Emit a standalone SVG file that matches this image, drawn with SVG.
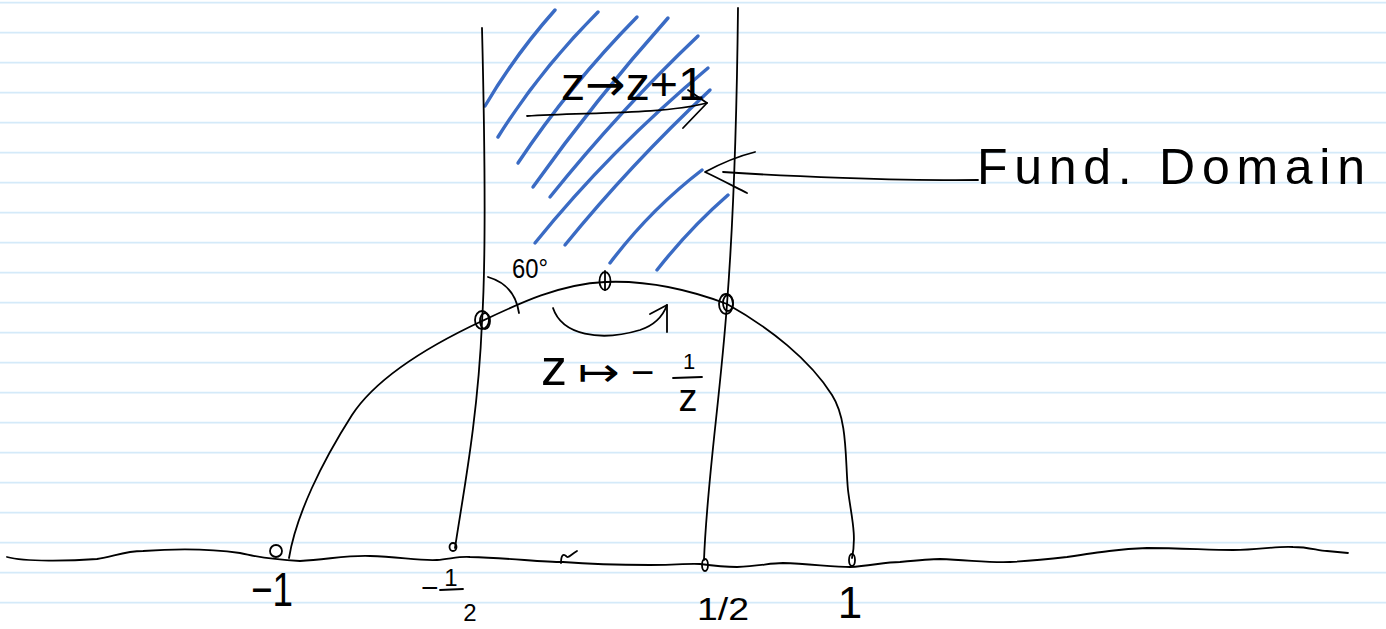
<svg xmlns="http://www.w3.org/2000/svg" width="1386" height="629" viewBox="0 0 1386 629">
<style>
.rule{stroke:#d4eaf9;stroke-width:1.7}
.ink{fill:none;stroke:#000;stroke-width:1.8;stroke-linecap:round;stroke-linejoin:round}
.hatch{fill:none;stroke:#3a6bc4;stroke-width:3.4;stroke-linecap:round}
.t{font-family:"Liberation Sans","Noto Sans",sans-serif;fill:#000}
</style>
<rect width="1386" height="629" fill="#fff"/>
<g id="paper">
<line class="rule" x1="0" y1="2.7" x2="1386" y2="2.7"/>
<line class="rule" x1="0" y1="32.7" x2="1386" y2="32.7"/>
<line class="rule" x1="0" y1="62.7" x2="1386" y2="62.7"/>
<line class="rule" x1="0" y1="92.7" x2="1386" y2="92.7"/>
<line class="rule" x1="0" y1="122.7" x2="1386" y2="122.7"/>
<line class="rule" x1="0" y1="152.7" x2="1386" y2="152.7"/>
<line class="rule" x1="0" y1="182.7" x2="1386" y2="182.7"/>
<line class="rule" x1="0" y1="212.7" x2="1386" y2="212.7"/>
<line class="rule" x1="0" y1="242.7" x2="1386" y2="242.7"/>
<line class="rule" x1="0" y1="272.7" x2="1386" y2="272.7"/>
<line class="rule" x1="0" y1="302.7" x2="1386" y2="302.7"/>
<line class="rule" x1="0" y1="332.7" x2="1386" y2="332.7"/>
<line class="rule" x1="0" y1="362.7" x2="1386" y2="362.7"/>
<line class="rule" x1="0" y1="392.7" x2="1386" y2="392.7"/>
<line class="rule" x1="0" y1="422.7" x2="1386" y2="422.7"/>
<line class="rule" x1="0" y1="452.7" x2="1386" y2="452.7"/>
<line class="rule" x1="0" y1="482.7" x2="1386" y2="482.7"/>
<line class="rule" x1="0" y1="512.7" x2="1386" y2="512.7"/>
<line class="rule" x1="0" y1="542.7" x2="1386" y2="542.7"/>
<line class="rule" x1="0" y1="572.7" x2="1386" y2="572.7"/>
<line class="rule" x1="0" y1="602.7" x2="1386" y2="602.7"/>
</g>
<g id="fundamental-domain-hatch">
<path class="hatch" d="M485,106 Q515,55 555,10"/>
<path class="hatch" d="M498,137 Q540,70 598,12"/>
<path class="hatch" d="M518,163 Q570,85 637,17"/>
<path class="hatch" d="M533,187 Q595,100 668,18"/>
<path class="hatch" d="M550,197 Q620,110 698,36"/>
<path class="hatch" d="M535,243 Q610,150 708,68"/>
<path class="hatch" d="M565,245 Q630,165 710,90"/>
<path class="hatch" d="M610,263 Q650,210 702,170"/>
<path class="hatch" d="M657,270 Q690,228 728,195"/>
</g>
<g id="real-axis">
<path class="ink" d="M7,557 C25,562 70,561 97,559 C115,556 125,551 143,551 C170,549 205,548 240,553 C255,556 262,559 300,561 C330,559 350,555 370,556 C400,557 420,561 437,560 C450,559 460,556 470,557 C510,558 540,562 563,562 C600,565 625,565 650,565 C680,565 690,563 700,564 C715,566 725,567 737,567 C760,566 770,563 783,563 C810,564 835,567 850,567 C870,566 885,562 900,562 C920,560 930,559 940,559 C970,560 990,563 1010,562 C1030,561 1050,559 1067,557 C1100,552 1120,549 1147,548 C1180,548 1210,550 1233,550 C1260,550 1275,546 1293,547 C1310,547 1318,551 1327,551 L1348,553"/>
</g>
<g id="line-re-minus-half">
<path class="ink" d="M482,28 C485,150 486,260 482,322 C478,420 462,500 455,548"/>
<ellipse class="ink" cx="453" cy="547" rx="3.5" ry="4"/>
</g>
<g id="line-re-plus-half">
<path class="ink" d="M738,8 C737,100 735,200 727,304 C720,400 707,480 704,560"/>
<ellipse class="ink" cx="705" cy="565" rx="3" ry="6"/>
</g>
<g id="unit-circle">
<path class="ink" d="M289,558 C296,515 322,462 352,415 C375,380 420,350 482,321 C520,303 560,284 605,282 C650,280 690,290 727,304 C770,328 810,360 832,395 C848,420 845,460 848,490 C851,515 857,535 852,558"/>
<ellipse class="ink" cx="852" cy="560" rx="3" ry="6"/>
<circle class="ink" cx="276" cy="551" r="6"/>
</g>
<g id="corner-left">
<ellipse class="ink" cx="482" cy="320" rx="7" ry="9"/>
<ellipse class="ink" cx="485" cy="321" rx="5" ry="8"/>
</g>
<g id="point-i">
<ellipse class="ink" cx="605" cy="281" rx="5.5" ry="9"/>
<line class="ink" x1="605" y1="271" x2="605" y2="290"/>
</g>
<g id="corner-right">
<ellipse class="ink" cx="726" cy="304" rx="7" ry="10"/>
<ellipse class="ink" cx="728" cy="303" rx="5" ry="8"/>
</g>
<g id="angle-60">
<path class="ink" d="M488,277 Q515,285 519,313"/>
<text class="t" x="512" y="278" font-size="28" textLength="36" lengthAdjust="spacingAndGlyphs">60°</text>
</g>
<g id="connectors">
<path class="ink" d="M527,116 C580,112 660,115 707,103"/>
<path class="ink" d="M688,90 L707,103 L683,128"/>
<path class="ink" d="M553,308 C562,335 600,342 640,330 C655,325 663,316 667,305"/>
<path class="ink" d="M650,314 L667,305 L667,332"/>
<path class="ink" d="M723,172 C780,176 900,181 978,180"/>
<path class="ink" d="M755,152 C735,157 718,165 705,172 C718,178 735,187 747,193"/>
</g>
<g id="label-translation">
<text class="t" x="561" y="100" font-size="46" textLength="144" lengthAdjust="spacingAndGlyphs">z<tspan font-family="DejaVu Sans, sans-serif">→</tspan>z+1</text>
</g>
<g id="label-inversion">
<text class="t" x="541" y="385" font-size="52">z</text>
<text x="578" y="386" font-size="40" font-family="DejaVu Sans, sans-serif" textLength="42" lengthAdjust="spacingAndGlyphs">↦</text>
<text class="t" x="631" y="386" font-size="40">−</text>
<text class="t" x="689" y="369" font-size="22" text-anchor="middle">1</text>
<line class="ink" x1="673" y1="378" x2="702" y2="377"/>
<text class="t" x="688" y="411" font-size="38" text-anchor="middle">z</text>
</g>
<g id="label-fund-domain">
<text class="t" x="977" y="184" font-size="50" textLength="388" lengthAdjust="spacing">Fund. Domain</text>
</g>
<g id="axis-labels">
<text class="t" x="251" y="606" font-size="48" textLength="42" lengthAdjust="spacingAndGlyphs">−1</text>
<text class="t" x="421" y="598" font-size="30">−</text>
<text class="t" x="451" y="586" font-size="24" text-anchor="middle">1</text>
<line class="ink" x1="440" y1="590" x2="463" y2="589"/>
<text class="t" x="470" y="621" font-size="24" text-anchor="middle">2</text>
<text class="t" x="697" y="620" font-size="32" textLength="52" lengthAdjust="spacingAndGlyphs">1/2</text>
<text class="t" x="850" y="618" font-size="44" text-anchor="middle">1</text>
</g>
<path class="ink" d="M561,563 C561,556 563,553 566,556 C568,559 570,555 577,551"/>
</svg>
